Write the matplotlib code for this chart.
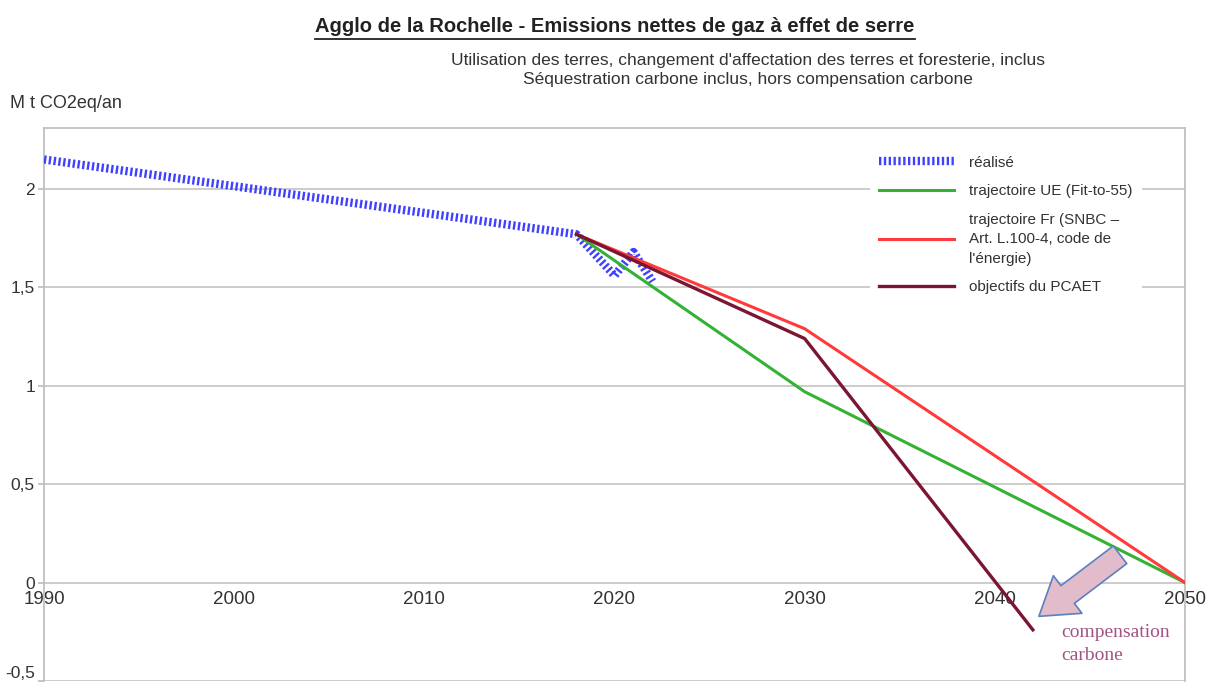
import matplotlib
matplotlib.use('Agg')
import matplotlib.pyplot as plt
from matplotlib.lines import Line2D
from matplotlib.ticker import FuncFormatter

# data
realise_years = [1990, 2018, 2020, 2021, 2022]
realise_vals = [2.15, 1.77, 1.56, 1.68, 1.53]
ue_years = [2018, 2030, 2050]
ue_vals = [1.77, 0.97, 0.0]
fr_years = [2018, 2030, 2050]
fr_vals = [1.77, 1.29, 0.0]
pcaet_years = [2018, 2030, 2042]
pcaet_vals = [1.77, 1.24, -0.24]
x_ticks = [1990, 2000, 2010, 2020, 2030, 2040, 2050]
y_ticks = [-0.5, 0, 0.5, 1, 1.5, 2]

narrow = ['Liberation Sans Narrow', 'Liberation Sans', 'DejaVu Sans']
plt.rcParams['font.family'] = ['Liberation Sans', 'DejaVu Sans']

fig = plt.figure(figsize=(12.06, 6.86), dpi=100)
ax = fig.add_axes([44 / 1206, 5 / 686, (1185 - 44) / 1206, (681 - 128) / 686])
ax.set_xlim(1990, 2050)
ax.set_ylim(-0.5, 2.31)

ax.plot(realise_years, realise_vals, color='#4040ff', lw=6, dashes=(0.28, 0.3),
        solid_capstyle='butt', dash_capstyle='butt', label='réalisé', zorder=3)
ax.plot(ue_years, ue_vals, color='#33b233', lw=2.2, label='trajectoire UE (Fit-to-55)', zorder=4)
ax.plot(fr_years, fr_vals, color='#ff3a3a', lw=2.2,
        label="trajectoire Fr (SNBC –\nArt. L.100-4, code de\nl'énergie)", zorder=4)
ax.plot(pcaet_years, pcaet_vals, color='#7a1632', lw=2.4, label='objectifs du PCAET', zorder=5)

# axes styling
ax.set_xticks(x_ticks)
ax.set_yticks(y_ticks)
ax.yaxis.set_major_formatter(FuncFormatter(lambda v, p: ('%g' % v).replace('.', ',')))
ax.grid(axis='y', color='#c8c8c8', lw=1.3)
ax.set_axisbelow(True)
for s in ['left', 'right', 'top']:
    ax.spines[s].set_color('#c0c0c0')
    ax.spines[s].set_linewidth(1.3)
ax.spines['bottom'].set_position(('data', 0))
ax.spines['bottom'].set_visible(False)
ax.tick_params(axis='x', length=0, labelsize=13.5, labelcolor='#333333', pad=6)
ax.tick_params(axis='y', length=4.5, color='#c0c0c0', width=1.3, labelsize=12.5,
               labelcolor='#333333', pad=2)
# keep the lowest label inside the picture
ax.get_yticklabels()[0].set_va('bottom')

leg = ax.legend(loc='upper left', bbox_to_anchor=(862 / 1206, 1 - 139 / 686),
                bbox_transform=fig.transFigure, frameon=True, framealpha=1,
                facecolor='white', edgecolor='none', fancybox=False,
                handlelength=4.9, handletextpad=1.0, labelspacing=0.95,
                prop={'family': narrow, 'size': 11}, borderpad=0.6)
for t in leg.get_texts():
    t.set_color('#333333')
    t.set_linespacing(1.5)

# arrow and compensation label
ax.annotate('', xy=(2042.2, -0.18), xytext=(2046.7, 0.15),
            arrowprops=dict(arrowstyle='simple,head_length=1.3,head_width=1.7,tail_width=0.8',
                            mutation_scale=20, fc='#e2bccb', ec='#5b7fbf', lw=1.2),
            zorder=6, annotation_clip=False)
ax.text(2043.5, -0.31, 'compensation\ncarbone', family=['Liberation Serif', 'DejaVu Serif'],
        fontsize=14, color='#a25384', va='center', ha='left', linespacing=1.45)

# titles
title = fig.text(615 / 1206, 1 - 27 / 686, 'Agglo de la Rochelle - Emissions nettes de gaz à effet de serre',
                 ha='center', va='center', fontsize=14.5, fontweight='bold', family=narrow, color='#222222')
fig.text(748 / 1206, 1 - 70 / 686,
         "Utilisation des terres, changement d'affectation des terres et foresterie, inclus\n"
         "Séquestration carbone inclus, hors compensation carbone",
         ha='center', va='center', fontsize=12.5, family=narrow, color='#333333', linespacing=1.4)
fig.text(10 / 1206, 1 - 104 / 686, 'M t CO2eq/an', ha='left', va='center', fontsize=13,
         color='#333333')

# underline for the title
fig.canvas.draw()
bb = title.get_window_extent(fig.canvas.get_renderer()).transformed(fig.transFigure.inverted())
fig.add_artist(Line2D([bb.x0, bb.x1], [bb.y0 - 0.003, bb.y0 - 0.003], transform=fig.transFigure,
                      color='#222222', lw=1.3))

fig.savefig('out.png', dpi=100)
